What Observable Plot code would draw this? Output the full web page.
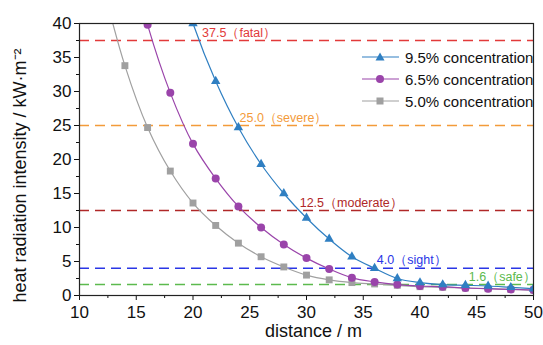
<!DOCTYPE html>
<html><head><meta charset="utf-8">
<script src="https://cdn.jsdelivr.net/npm/d3@7"></script>
<script src="https://cdn.jsdelivr.net/npm/@observablehq/plot@0.6"></script>
<style>
body{margin:0;background:#fff;font-family:'Liberation Sans', Arial, sans-serif;}
#wrap{position:relative;width:543px;height:345px;}
#legend{position:absolute;left:362px;top:46px;color:#111;font-size:15px;}
.row{display:flex;align-items:center;height:22px;white-space:nowrap;}
.row svg{margin-right:6px;}
</style></head><body><div id="wrap"><div id="chart"></div><div id="legend"></div></div>
<script>
const distance = [12,14,16,18,20,22,24,26,28,30,32,34,36,38,40,42,44,46,48,50];
const conc95 = [null,null,null,51,40.0,31.5,24.7,19.3,15.0,11.4,8.3,5.7,4.0,2.5,1.9,1.6,1.5,1.4,1.2,1.0];
const conc65 = [null,53,39.8,29.8,22.3,17.2,13.1,10.0,7.5,5.5,3.9,2.6,2.0,1.6,1.4,1.3,1.1,1.0,0.9,0.8];
const conc50 = [46,33.8,24.7,18.3,13.6,10.3,7.7,5.7,4.2,3.0,2.3,1.9,1.7,1.5,1.3,1.2,1.1,1.0,0.9,0.8];
const seriesNames = ["9.5% concentration","6.5% concentration","5.0% concentration"];
const seriesColors = ["#2f7fc2","#9a44aa","#a0a0a0"];
const seriesSymbols = ["triangle","circle","square"];
const thresholdValues = [37.5,25.0,12.5,4.0,1.6];
const thresholdLabels = ["37.5（fatal）","25.0（severe）","12.5（moderate）","4.0（sight）","1.6（safe）"];
const thresholdLabelX = [20.8,24.1,29.4,36.2,44.3];
const thresholdColors = ["#e23a3a","#f39b3a","#b02828","#2a36e6","#5cba4e"];
const xTicks = [10,15,20,25,30,35,40,45,50];
const yTicks = [0,5,10,15,20,25,30,35,40];
const xMinor = [12.5,17.5,22.5,27.5,32.5,37.5,42.5,47.5];
const yMinor = [2.5,7.5,12.5,17.5,22.5,27.5,32.5,37.5];

const FONT = "'Liberation Sans', Arial, sans-serif";
const seriesValues = [conc95, conc65, conc50];
const series = seriesNames.map((name,i)=>({
  name, color: seriesColors[i], symbol: seriesSymbols[i],
  data: distance.map((d,j)=>({x:d, y:seriesValues[i][j]})).filter(p=>p.y!=null)
}));
const thresholds = thresholdValues.map((v,i)=>({v, label: thresholdLabels[i], lx: thresholdLabelX[i], color: thresholdColors[i]}));
const rFor = {triangle:3.5, circle:4, square:3.9};

const marks = [
  Plot.ruleY(thresholds, {y:"v", stroke:"color", strokeDasharray:"10,6", strokeWidth:1.5}),
  Plot.text(thresholds, {x:"lx", y:"v", text:"label", fill:"color", textAnchor:"start", dy:-8, fontSize:12.5}),
];
[2,1,0].forEach(i=>{
  const s = series[i];
  marks.push(Plot.line(s.data, {x:"x", y:"y", stroke:s.color, strokeWidth:1.2, curve:"catmull-rom", clip:true}));
  marks.push(Plot.dot(s.data, {x:"x", y:"y", fill:s.color, stroke:"none", symbol:s.symbol, r:rFor[s.symbol], clip:true}));
});
marks.push(
  Plot.axisX({ticks:xTicks, tickSize:5, tickPadding:5, label:null, fontSize:17}),
  Plot.axisX({ticks:xMinor, tickSize:3, tickFormat:()=>"", label:null}),
  Plot.axisY({ticks:yTicks, tickSize:5, tickPadding:3, label:null, fontSize:17}),
  Plot.axisY({ticks:yMinor, tickSize:3, tickFormat:()=>"", label:null}),
  Plot.frame({stroke:"#222", strokeWidth:1.2}),
  Plot.text(["distance / m"], {frameAnchor:"bottom", lineAnchor:"middle", textAnchor:"middle", dx:7, dy:36, fontSize:18, fill:"#111"}),
  Plot.text(["heat radiation intensity / kW·m⁻²"], {frameAnchor:"left", textAnchor:"middle", lineAnchor:"middle", rotate:-90, dx:-59, dy:16, fontSize:18, fill:"#111"})
);

const chart = Plot.plot({
  width:543, height:345,
  marginLeft:79, marginRight:10, marginTop:23, marginBottom:50,
  x:{domain:[10,50], label:null},
  y:{domain:[0,40], label:null},
  color:{type:"identity"},
  style:{fontFamily:FONT, color:"#111", background:"#fff"},
  marks
});
document.getElementById("chart").appendChild(chart);

const legend = document.getElementById("legend");
series.forEach(s=>{
  const row = document.createElement("div");
  row.className = "row";
  let marker;
  if (s.symbol==="triangle") marker = `<polygon points="18,-4.5 22.5,3.5 13.5,3.5" fill="${s.color}"/>`;
  else if (s.symbol==="circle") marker = `<circle cx="18" cy="0" r="4" fill="${s.color}"/>`;
  else marker = `<rect x="14.5" y="-3.5" width="7" height="7" fill="${s.color}"/>`;
  row.innerHTML = `<svg width="37" height="12" viewBox="0 -6 37 12"><line x1="0" y1="0" x2="37" y2="0" stroke="${s.color}" stroke-width="1.2"/>${marker}</svg><span>${s.name}</span>`;
  legend.appendChild(row);
});
</script>
</body></html>
